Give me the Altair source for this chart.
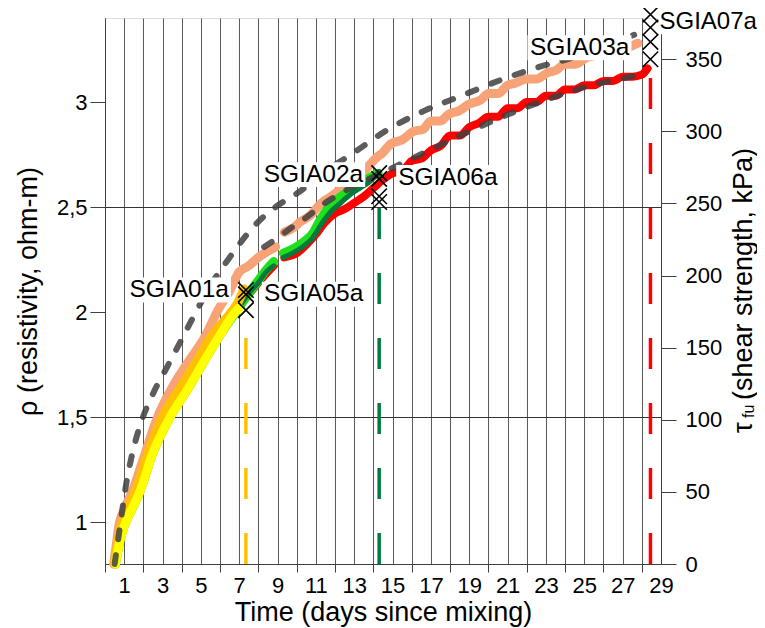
import altair as alt
import pandas as pd

FONT = "Liberation Sans"

# ---------------- data ----------------
# resistivity records: day since mixing, rho (ohm-m); None marks a gap in the record
sgia07a_day = [0.55, 0.75, 1.0, 1.4, 1.8, 2.5, 3.4, 4.3, 5.2, 6.0, 6.8, 7.3, 8.0, 8.8, None,
               9.35, 10.0, 10.5, 11.0, 11.5, 12.0, 12.5, 13.0, 13.5, 14.0, 14.5, 15.0,
               15.5, 16.0, 16.5, 17.0, 17.5, 18.0, 18.5, 19.0, 19.5, 20.0, 20.5, 21.0,
               21.5, 22.0, 22.5, 23.0, 23.5, 24.0, 24.5, 25.0, 25.5, 26.0, 26.5, 27.0,
               27.5, 28.0, 28.3]
sgia07a_rho = [0.80, 0.90, 0.98, 1.06, 1.14, 1.33, 1.50, 1.63, 1.77, 1.89, 2.00, 2.06, 2.14, 2.22, None,
               2.26, 2.28, 2.32, 2.37, 2.43, 2.47, 2.49, 2.52, 2.55, 2.59, 2.63, 2.66,
               2.67, 2.72, 2.73, 2.77, 2.79, 2.84, 2.84, 2.88, 2.90, 2.93, 2.93, 2.97,
               2.97, 3.00, 3.00, 3.03, 3.03, 3.06, 3.06, 3.08, 3.08, 3.10, 3.10, 3.12,
               3.12, 3.13, 3.16]

sgia03a_day = [0.45, 0.6, 0.7, 1.0, 1.4, 2.0, 2.7, 3.5, 4.4, 5.2, 5.9, 6.5, 7.0, 7.5,
               8.0, 8.5, 8.9, None,
               9.35, 9.8, 10.2, 10.7, 11.3, 11.8, 12.5, 13.0, 13.5, 14.1, 14.5, 14.9,
               15.5, 16.1, 16.6, 17.0, 17.5, 17.9, 18.5, 19.0, 19.6, 20.0, 20.5, 21.0,
               21.4, 22.0, 22.5, 23.1, 23.5, 24.0, 24.5, 25.1, 26.0, 27.0, 27.8]
sgia03a_rho = [0.80, 0.90, 0.97, 1.06, 1.14, 1.30, 1.49, 1.64, 1.77, 1.88, 2.01, 2.10,
               2.19, 2.22, 2.26, 2.29, 2.31, None,
               2.38, 2.40, 2.43, 2.46, 2.52, 2.55, 2.60, 2.63, 2.67, 2.73, 2.76, 2.80,
               2.82, 2.86, 2.87, 2.91, 2.91, 2.94, 2.96, 2.99, 3.01, 3.04, 3.04, 3.08,
               3.09, 3.11, 3.11, 3.14, 3.15, 3.18, 3.18, 3.21, 3.23, 3.25, 3.28]

sgia06a_day = [0.55, 0.75, 1.0, 1.4, 1.8, 2.5, 3.4, 4.3, 5.2, 6.0, 6.9, 7.5, 8.0, 8.4, 8.8, None,
               9.3, 9.8, 10.3, 10.8, 11.3, 11.8, 12.3, 12.8, 13.3, 13.8, 14.25]
sgia06a_rho = [0.80, 0.90, 0.98, 1.06, 1.14, 1.33, 1.50, 1.63, 1.77, 1.89, 2.01, 2.09, 2.15,
               2.20, 2.24, None,
               2.28, 2.30, 2.33, 2.37, 2.45, 2.51, 2.55, 2.58, 2.61, 2.64, 2.66]

sgia02a_day = [0.55, 0.75, 1.0, 1.4, 1.8, 2.5, 3.4, 4.3, 5.2, 6.0, 6.9, 7.6, 8.0, 8.4, 8.8, None,
               9.3, 10.3, 10.8, 11.3, 11.8, 12.3, 12.8, 13.3, 13.8, 14.3]
sgia02a_rho = [0.80, 0.90, 0.98, 1.06, 1.14, 1.33, 1.50, 1.63, 1.77, 1.89, 2.01, 2.10, 2.14,
               2.19, 2.22, None,
               2.26, 2.31, 2.35, 2.42, 2.48, 2.52, 2.56, 2.59, 2.62, 2.67]

sgia01a_day = [0.5, 0.7, 0.85, 1.2, 1.6, 2.2, 3.0, 4.0, 4.8, 5.6, 6.5, 6.9, 7.25]
sgia01a_rho = [0.80, 0.92, 0.98, 1.07, 1.15, 1.32, 1.50, 1.65, 1.77, 1.89, 1.99, 2.04, 2.11]

sgia05a_day = [0.55, 0.75, 1.0, 1.4, 1.8, 2.5, 3.4, 4.3, 5.2, 6.0, 6.8, 7.0]
sgia05a_rho = [0.80, 0.90, 0.98, 1.06, 1.14, 1.33, 1.50, 1.63, 1.77, 1.89, 2.00, 2.02]

# model curves (dashed)
model_a_day = [0.5, 0.8, 1.05, 1.36, 1.83, 2.5, 3.25, 4.0, 4.8, 5.6, 6.5, 7.15, 8.0, 8.9,
               10.1, 11.5, 13.0, 14.6, 16.7, 18.6, 20.5, 22.4, 24.7, 27.6]
model_a_rho = [0.80, 0.99, 1.15, 1.30, 1.46, 1.61, 1.74, 1.87, 2.01, 2.14, 2.26, 2.34, 2.43,
               2.50, 2.57, 2.67, 2.76, 2.86, 2.96, 3.03, 3.10, 3.16, 3.22, 3.32]
model_b_day = [8.3, 8.8, 9.7, 10.2, 11.5, 13.0, 14.4, 16.0, 19.0, 21.0, 23.0, 25.0, 27.4, 28.0]
model_b_rho = [2.31, 2.34, 2.40, 2.43, 2.52, 2.60, 2.66, 2.73, 2.86, 2.94, 3.01, 3.07, 3.12, 3.13]

# shear strength tests (kPa) at the day of testing
test_days = [7.35, 7.35, 7.35, 14.3, 14.3, 14.3, 14.3, 28.45, 28.45, 28.45, 28.45]
test_kpa = [190, 187, 176, 271, 267, 255, 251, 381, 372, 362, 350]

# vertical test-day markers: day, top (kPa), colour
testline_days = [7.35, 14.3, 28.45]
testline_top = [176, 251, 350]
testline_colors = ["#FFC000", "#007A3D", "#FF0000"]

# sample labels
label_names = ["SGIA01a", "SGIA05a", "SGIA02a", "SGIA06a", "SGIA03a", "SGIA07a"]
label_days = [7.35, 7.35, 14.3, 14.3, 28.45, 28.45]
label_kpa = [190, 187, 270, 268, 358, 376]

x_ticks = list(range(0, 30))
rho_ticks = [1, 1.5, 2, 2.5, 3]
kpa_ticks = [0, 50, 100, 150, 200, 250, 300, 350]

# label placement style: (align, dx in px, font size)
LABEL_STYLE = {
    "SGIA01a": ("right", -17, 24.5), "SGIA05a": ("left", 18, 24.5),
    "SGIA02a": ("right", -16, 24.5), "SGIA06a": ("left", 19, 24.5),
    "SGIA03a": ("right", -21, 24.5), "SGIA07a": ("left", 9, 24),
}

# ---------------- helpers ----------------
def seg_frame(days, rhos):
    rows, seg = [], 0
    for d, r in zip(days, rhos):
        if d is None:
            seg += 1
            continue
        rows.append({"seg": seg, "day": d, "rho": r})
    return pd.DataFrame(rows)


x_axis = alt.Axis(
    values=x_ticks, grid=True, gridColor="#5a5a5a", gridWidth=1,
    tickSize=8, tickColor="#404040",
    tickOpacity={"condition": {"test": "datum.value % 2 == 0", "value": 1}, "value": 0},
    labelExpr="datum.value % 2 == 1 ? datum.label : ''",
    labelFontSize=22, labelFont=FONT, labelColor="black", labelPadding=3,
    labelFlush=False, labelOverlap=False,
    domainColor="#404040", title="Time (days since mixing)", titleFont=FONT,
    titleFontSize=27, titleFontWeight="normal", titleColor="black", titlePadding=3,
)
x_scale = alt.Scale(domain=[0, 29], nice=False, zero=False)


def X():
    return alt.X("day:Q", scale=x_scale, axis=x_axis)


rho_axis = alt.Axis(
    values=rho_ticks, orient="left", grid=True, gridColor="#333333",
    gridOpacity={"condition": {"test": "datum.value == 1.5 || datum.value == 2.5", "value": 1}, "value": 0},
    labelExpr="replace(format(datum.value, '~g'), '.', ',')",
    tickSize=15, tickColor="#404040", domainColor="#404040",
    labelFontSize=22, labelFont=FONT, labelColor="black", labelPadding=3,
    title="ρ (resistivity, ohm-m)", titleFont=FONT, titleFontSize=27,
    titleFontWeight="normal", titleColor="black", titlePadding=14,
)
rho_scale = alt.Scale(domain=[0.8, 3.4], nice=False, zero=False)

kpa_axis = alt.Axis(
    values=kpa_ticks, orient="right", grid=False,
    tickSize=15, tickColor="#404040", domainColor="#404040",
    labelFontSize=22, labelFont=FONT, labelColor="black", labelPadding=9,
    title=None,
)
kpa_scale = alt.Scale(domain=[0, 378.6], nice=False, zero=False)


def YR():
    return alt.Y("rho:Q", scale=rho_scale, axis=rho_axis)


def YK(field="kpa"):
    return alt.Y(f"{field}:Q", scale=kpa_scale, axis=kpa_axis)


def series_line(days, rhos, color, width):
    return alt.Chart(seg_frame(days, rhos)).mark_line(
        color=color, strokeWidth=width, strokeCap="round", strokeJoin="round",
        interpolate="monotone",
    ).encode(x=X(), y=YR(), detail="seg:N")


def model_line(days, rhos):
    return alt.Chart(seg_frame(days, rhos)).mark_line(
        color="#404040", opacity=0.85, strokeWidth=6, strokeCap="round",
        strokeDash=[9, 16], interpolate="monotone",
    ).encode(x=X(), y=YR(), detail="seg:N")


rho_layers = alt.layer(
    series_line(sgia07a_day, sgia07a_rho, "#FF0000", 8),
    series_line(sgia03a_day, sgia03a_rho, "#F8A377", 9),
    series_line(sgia06a_day, sgia06a_rho, "#1EE01E", 9),
    series_line(sgia02a_day, sgia02a_rho, "#007A3D", 5),
    series_line(sgia01a_day, sgia01a_rho, "#FFC000", 9),
    series_line(sgia05a_day, sgia05a_rho, "#FFFF00", 9),
    model_line(model_a_day, model_a_rho),
    model_line(model_b_day, model_b_rho),
)

# ---------------- kPa layers ----------------
tl = pd.DataFrame({"day": testline_days, "lo": [0] * 3, "hi": testline_top, "c": testline_colors})
rules = alt.Chart(tl).mark_rule(strokeWidth=3.5, strokeDash=[31, 34]).encode(
    x=X(), y=YK("lo"), y2="hi:Q", color=alt.Color("c:N", scale=None)
)

tests = pd.DataFrame({"day": test_days, "kpa": test_kpa})
xmarks = alt.Chart(tests).mark_point(
    shape="M-1,-1L1,1M-1,1L1,-1", size=240, filled=False, stroke="black",
    strokeWidth=1.6, opacity=1,
).encode(x=X(), y=YK())

BOX = "M-1,-0.24L1,-0.24L1,0.24L-1,0.24Z"
box_layers, text_layers = [], []
for name, d, k in zip(label_names, label_days, label_kpa):
    align, dx, fs = LABEL_STYLE[name]
    df = pd.DataFrame({"day": [d], "kpa": [k], "name": [name]})
    box_off = dx - 50 if align == "right" else dx + 50
    box_layers.append(
        alt.Chart(df).mark_point(
            shape=BOX, size=104 * 104, filled=True, color="white", opacity=1,
            xOffset=box_off,
        ).encode(x=X(), y=YK())
    )
    text_layers.append(
        alt.Chart(df).mark_text(
            align=align, baseline="middle", dx=dx, fontSize=fs, font=FONT,
            color="black",
        ).encode(x=X(), y=YK(), text="name:N")
    )

kpa_layers = alt.layer(rules, *box_layers, xmarks, *text_layers)

# right axis title  τ_fu (shear strength, kPa)
one = pd.DataFrame({"k": [0]})
t_main = alt.Chart(one).mark_text(
    text="(shear strength, kPa)", angle=270, align="left", baseline="alphabetic",
    fontSize=27, font=FONT, color="black",
).encode(x=alt.value(647), y=alt.value(382))
t_tau = alt.Chart(one).mark_text(
    text="τ", angle=270, align="left", baseline="alphabetic",
    fontSize=27, font=FONT, color="black",
).encode(x=alt.value(647), y=alt.value(415))
t_fu = alt.Chart(one).mark_text(
    text="fu", angle=270, align="left", baseline="alphabetic",
    fontSize=16, font=FONT, color="black",
).encode(x=alt.value(649), y=alt.value(400))

chart = alt.layer(rho_layers, kpa_layers).resolve_scale(y="independent")
chart = alt.layer(chart, t_main, t_tau, t_fu).properties(
    width=556, height=546,
    autosize=alt.AutoSizeParams(type="none"),
    padding={"left": 97, "top": 10, "right": 96, "bottom": 64},
).configure_view(stroke=None).configure(font=FONT)

chart.save("out.html", embed_options={"renderer": "svg", "actions": False})
